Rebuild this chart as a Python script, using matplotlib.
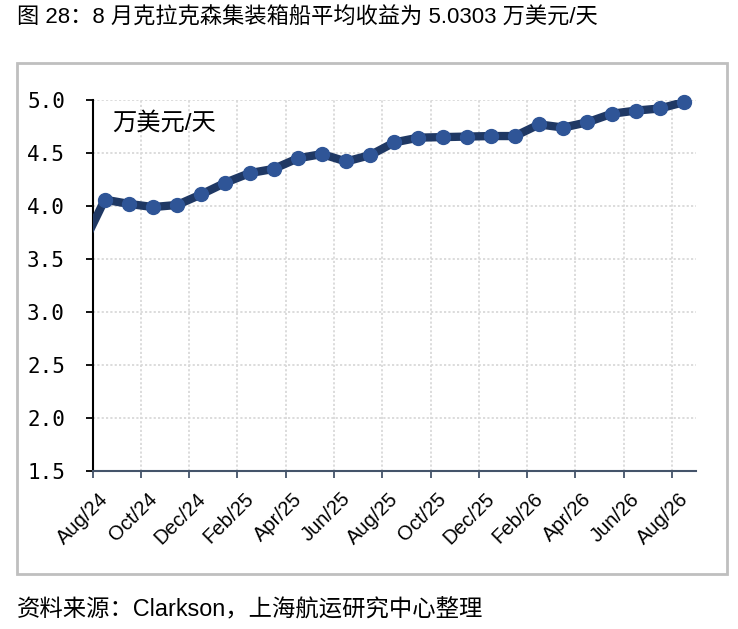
"""
Clarkson containership average earnings, monthly line chart
"""
import matplotlib.pyplot as plt
import matplotlib.transforms as mtrans
from matplotlib.patches import Rectangle
import numpy as np

plt.rcParams['font.family'] = ['Liberation Sans', 'Noto Sans CJK SC']
plt.rcParams['font.size'] = 12

# monthly values, Jul/24 .. Aug/26 (10k USD/day)
months = ['Jul/24', 'Aug/24', 'Sep/24', 'Oct/24', 'Nov/24', 'Dec/24',
          'Jan/25', 'Feb/25', 'Mar/25', 'Apr/25', 'May/25', 'Jun/25',
          'Jul/25', 'Aug/25', 'Sep/25', 'Oct/25', 'Nov/25', 'Dec/25',
          'Jan/26', 'Feb/26', 'Mar/26', 'Apr/26', 'May/26', 'Jun/26',
          'Jul/26', 'Aug/26']
earnings = [3.59, 4.06, 4.02, 3.99, 4.01, 4.11,
            4.22, 4.31, 4.35, 4.45, 4.49, 4.42,
            4.48, 4.60, 4.645, 4.65, 4.655, 4.66,
            4.66, 4.77, 4.74, 4.79, 4.87, 4.90,
            4.92, 4.98]
tick_labels = ['Aug/24', 'Oct/24', 'Dec/24', 'Feb/25', 'Apr/25', 'Jun/25',
               'Aug/25', 'Oct/25', 'Dec/25', 'Feb/26', 'Apr/26', 'Jun/26',
               'Aug/26']
y_ticks = [1.5, 2.0, 2.5, 3.0, 3.5, 4.0, 4.5, 5.0]

title = '图 28：8 月克拉克森集装箱船平均收益为 5.0303 万美元/天'
source = '资料来源：Clarkson，上海航运研究中心整理'
unit = '万美元/天'


def create_figure():
    fig = plt.figure(figsize=(7.38, 6.29), dpi=100)
    ax = fig.add_axes([0.1256, 0.2512, 0.8175, 0.5898])

    # categories sit between ticks (Excel style); Aug/24 category = 0..1
    x = np.arange(len(months)) - 0.5
    ax.plot(x, earnings, color='#1F3864', linewidth=6, zorder=3,
            solid_joinstyle='round')
    # Jul/24 point lies left of the axis: no marker for it
    ax.plot(x, earnings, linestyle='none', marker='o', markersize=10,
            color='#2F5597', zorder=4, markevery=slice(1, None),
            clip_on=False)

    ax.set_xlim(0, 25)
    ax.set_ylim(1.5, 5.0)
    ax.set_yticks(y_ticks)
    ax.set_yticklabels([f'{v:.1f}' for v in y_ticks], fontsize=15,
                       family='DejaVu Sans Mono')
    ax.set_xticks(np.arange(0, 25, 2))
    ax.set_xticklabels(tick_labels, rotation=45, ha='right', va='center',
                       rotation_mode='anchor', fontsize=14.5)

    ax.grid(True, color='#D9D9D9', linestyle=(0, (1.2, 1.2)), linewidth=1.3)
    ax.set_axisbelow(True)

    for side in ['top', 'right']:
        ax.spines[side].set_visible(False)
    ax.spines['left'].set_color('black')
    ax.spines['left'].set_linewidth(1.5)
    ax.spines['bottom'].set_color('#44546A')
    ax.spines['bottom'].set_linewidth(1.5)
    ax.tick_params(axis='y', direction='out', length=5, width=1.3,
                   colors='black', pad=15)
    ax.tick_params(axis='x', direction='out', length=5, width=1.3,
                   color='#44546A', labelcolor='black', pad=13)

    # shift x labels to the right like the original
    offset = mtrans.ScaledTranslation(0.13, 0.0, fig.dpi_scale_trans)
    for lab in ax.get_xticklabels():
        lab.set_transform(lab.get_transform() + offset)

    ax.text(0.033, 0.937, unit, transform=ax.transAxes, fontsize=17.5,
            ha='left', va='center')

    fig.text(17 / 738, 1 - 18 / 629, title, fontsize=16, ha='left',
             va='center')
    fig.text(17 / 738, 1 - 610 / 629, source, fontsize=16.8, ha='left',
             va='center')

    fig.patches.append(Rectangle((17 / 738, 1 - 574 / 629),
                                 (727 - 17) / 738, (574 - 63) / 629,
                                 transform=fig.transFigure, fill=False,
                                 edgecolor='#BFBFBF', linewidth=2))

    fig.savefig('out.png', dpi=100)
    plt.close(fig)


if __name__ == "__main__":
    create_figure()
